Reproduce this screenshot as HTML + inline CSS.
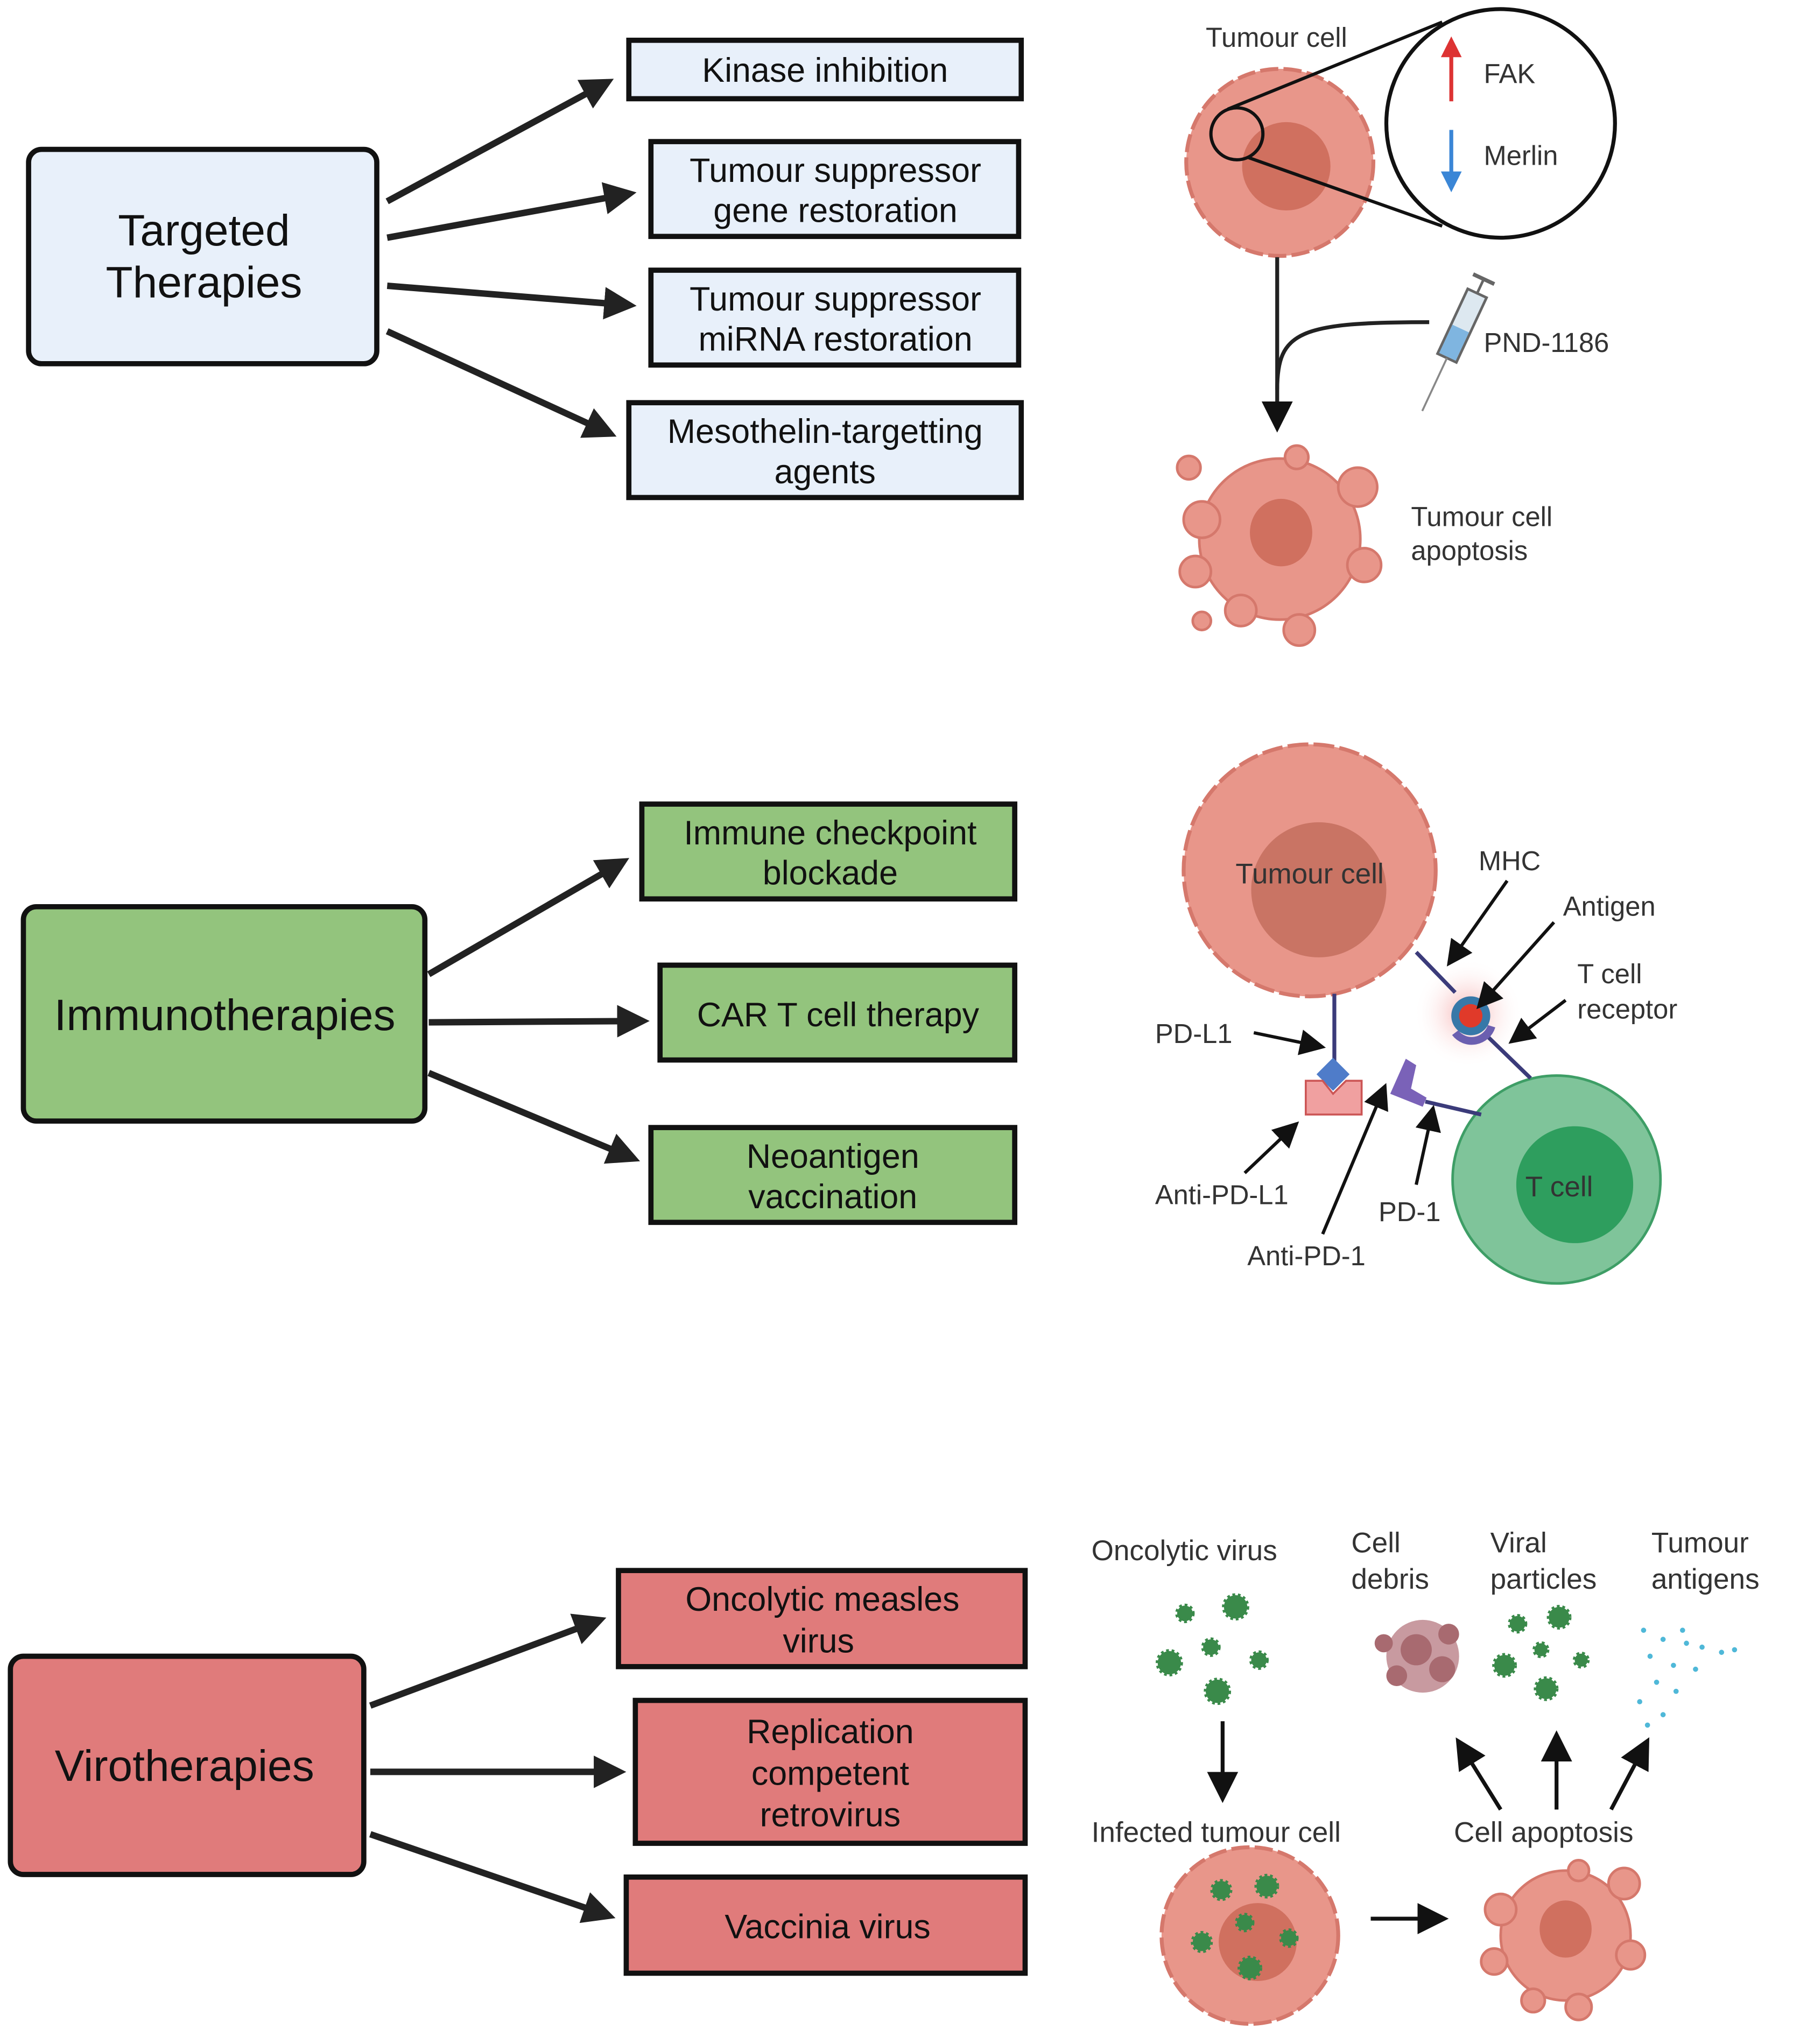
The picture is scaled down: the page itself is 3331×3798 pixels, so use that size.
<!DOCTYPE html>
<html><head><meta charset="utf-8"><style>
html,body{margin:0;padding:0;background:#fff}
svg{display:block}
text{font-family:"Liberation Sans",sans-serif}
</style></head><body>
<svg width="3331" height="3798" viewBox="0 0 1380 1573.5" preserveAspectRatio="none" xmlns="http://www.w3.org/2000/svg">
<defs>
<marker id="ah" markerWidth="5" markerHeight="5" refX="4" refY="2.5" orient="auto" markerUnits="strokeWidth"><path d="M0,0 L5,2.5 L0,5 z" fill="#222"/></marker>
<marker id="as" markerWidth="8" markerHeight="8" refX="7" refY="4" orient="auto" markerUnits="strokeWidth"><path d="M0,0 L8,4 L0,8 z" fill="#111"/></marker>
<radialGradient id="glow"><stop offset="0" stop-color="#f6b0b0"/><stop offset="1" stop-color="#fff" stop-opacity="0"/></radialGradient>
</defs>

<!-- Targeted -->
<rect x="22" y="115" width="268" height="165" rx="10" fill="#e8f0fa" stroke="#111" stroke-width="4"/>
<text x="157" y="189" font-size="34" text-anchor="middle" fill="#111">Targeted</text>
<text x="157" y="229" font-size="34" text-anchor="middle" fill="#111">Therapies</text>
<g fill="#e8f0fa" stroke="#111" stroke-width="4">
<rect x="484" y="31" width="302" height="45"/>
<rect x="501" y="109" width="283" height="73"/>
<rect x="501" y="208" width="283" height="73"/>
<rect x="484" y="310" width="302" height="73"/>
</g>
<g font-size="26" text-anchor="middle" fill="#111">
<text x="635" y="63">Kinase inhibition</text>
<text x="643" y="140">Tumour suppressor</text><text x="643" y="171">gene restoration</text>
<text x="643" y="239">Tumour suppressor</text><text x="643" y="270">miRNA restoration</text>
<text x="635" y="341">Mesothelin-targetting</text><text x="635" y="372">agents</text>
</g>
<g stroke="#222" stroke-width="5" marker-end="url(#ah)">
<line x1="298" y1="155" x2="468" y2="63"/>
<line x1="298" y1="183" x2="485" y2="149"/>
<line x1="298" y1="220" x2="485" y2="235"/>
<line x1="298" y1="255" x2="470" y2="334"/>
</g>

<!-- Immuno -->
<rect x="18" y="698" width="309" height="165" rx="10" fill="#93c47d" stroke="#111" stroke-width="4"/>
<text x="173" y="793" font-size="34" text-anchor="middle" fill="#111">Immunotherapies</text>
<g fill="#93c47d" stroke="#111" stroke-width="4">
<rect x="494" y="619" width="287" height="73"/>
<rect x="508" y="743" width="273" height="73"/>
<rect x="501" y="868" width="280" height="73"/>
</g>
<g font-size="26" text-anchor="middle" fill="#111">
<text x="639" y="650">Immune checkpoint</text><text x="639" y="681">blockade</text>
<text x="645" y="790">CAR T cell therapy</text>
<text x="641" y="899">Neoantigen</text><text x="641" y="930">vaccination</text>
</g>
<g stroke="#222" stroke-width="5" marker-end="url(#ah)">
<line x1="330" y1="750" x2="480" y2="663"/>
<line x1="330" y1="787" x2="495" y2="786"/>
<line x1="330" y1="826" x2="488" y2="892"/>
</g>

<!-- Viro -->
<rect x="8" y="1275" width="272" height="168" rx="10" fill="#e07b7b" stroke="#111" stroke-width="4"/>
<text x="142" y="1371" font-size="34" text-anchor="middle" fill="#111">Virotherapies</text>
<g fill="#e07b7b" stroke="#111" stroke-width="4">
<rect x="476" y="1209" width="313" height="74"/>
<rect x="489" y="1309" width="300" height="110"/>
<rect x="482" y="1445" width="307" height="74"/>
</g>
<g font-size="26" text-anchor="middle" fill="#111">
<text x="633" y="1240">Oncolytic measles</text><text x="630" y="1272">virus</text>
<text x="639" y="1342">Replication</text><text x="639" y="1374">competent</text><text x="639" y="1406">retrovirus</text>
<text x="637" y="1492">Vaccinia virus</text>
</g>
<g stroke="#222" stroke-width="5" marker-end="url(#ah)">
<line x1="285" y1="1313" x2="462" y2="1247"/>
<line x1="285" y1="1364" x2="477" y2="1364"/>
<line x1="285" y1="1412" x2="469" y2="1475"/>
</g>

<!-- Illustration 1 -->
<circle cx="985" cy="125" r="72" fill="#e8968a" stroke="#d5786c" stroke-width="3" stroke-dasharray="14 4"/>
<circle cx="990" cy="128" r="34" fill="#d0705f"/>
<circle cx="952" cy="103" r="20" fill="none" stroke="#111" stroke-width="2.5"/>
<line x1="945" y1="84" x2="1110" y2="17" stroke="#111" stroke-width="2.5"/>
<line x1="960" y1="121" x2="1110" y2="174" stroke="#111" stroke-width="2.5"/>
<circle cx="1155" cy="95" r="88" fill="#fff" stroke="#111" stroke-width="3"/>
<line x1="1117" y1="78" x2="1117" y2="42" stroke="#d33" stroke-width="3"/><path d="M1109,44 L1117,28 L1125,44 z" fill="#d33"/>
<line x1="1117" y1="100" x2="1117" y2="134" stroke="#3a86d6" stroke-width="3"/><path d="M1109,132 L1117,148 L1125,132 z" fill="#3a86d6"/>
<g font-size="21" fill="#333">
<text x="928" y="36">Tumour cell</text>
<text x="1142" y="64">FAK</text>
<text x="1142" y="127">Merlin</text>
<text x="1142" y="271">PND-1186</text>
<text x="1086" y="405">Tumour cell</text><text x="1086" y="431">apoptosis</text>
</g>
<line x1="983" y1="198" x2="983" y2="330" stroke="#222" stroke-width="3" marker-end="url(#as)"/>
<path d="M983,300 C983,255 1000,248 1100,248" fill="none" stroke="#222" stroke-width="3"/>
<g transform="translate(1120,262) rotate(25)">
<rect x="-8" y="-40" width="16" height="55" fill="#dde8f0" stroke="#666" stroke-width="2"/>
<rect x="-7" y="-10" width="14" height="24" fill="#7fb5e0"/>
<line x1="0" y1="-40" x2="0" y2="-52" stroke="#666" stroke-width="2"/>
<line x1="-9" y1="-52" x2="9" y2="-52" stroke="#666" stroke-width="3"/>
<line x1="0" y1="15" x2="0" y2="60" stroke="#888" stroke-width="1.5"/>
</g>
<g fill="#e8968a" stroke="#d5786c" stroke-width="2">
<circle cx="985" cy="415" r="62"/>
<circle cx="925" cy="400" r="14"/><circle cx="920" cy="440" r="12"/><circle cx="1045" cy="375" r="15"/>
<circle cx="1050" cy="435" r="13"/><circle cx="1000" cy="485" r="12"/><circle cx="955" cy="470" r="12"/>
<circle cx="915" cy="360" r="9"/><circle cx="925" cy="478" r="7"/><circle cx="998" cy="352" r="9"/>
</g>
<ellipse cx="986" cy="410" rx="24" ry="26" fill="#d0705f"/>

<!-- Illustration 2 -->
<circle cx="1130" cy="780" r="42" fill="url(#glow)"/>
<circle cx="1008" cy="670" r="97" fill="#e8968a" stroke="#d5786c" stroke-width="3" stroke-dasharray="16 4"/>
<circle cx="1015" cy="685" r="52" fill="#c97464"/>
<text x="1008" y="680" font-size="22" text-anchor="middle" fill="#333">Tumour cell</text>
<circle cx="1198" cy="908" r="80" fill="#7fc49a" stroke="#3e9e66" stroke-width="2"/>
<circle cx="1212" cy="912" r="45" fill="#2e9e5e"/>
<text x="1200" y="921" font-size="22" text-anchor="middle" fill="#333">T cell</text>
<g stroke="#3b3b7a" stroke-width="3" fill="none">
<line x1="1090" y1="733" x2="1120" y2="764"/>
<line x1="1145" y1="798" x2="1178" y2="830"/>
<line x1="1027" y1="765" x2="1027" y2="820"/>
<line x1="1097" y1="848" x2="1140" y2="858"/>
</g>
<circle cx="1132" cy="782" r="15" fill="#3778a8"/>
<circle cx="1132" cy="782" r="9" fill="#e03a2a"/>
<path d="M1120,795 A16,16 0 0 0 1148,790" stroke="#6b5fb0" stroke-width="6" fill="none"/>
<rect x="1017" y="818" width="18" height="18" transform="rotate(45 1026 827)" fill="#4f7cc9"/>
<path d="M1005,832 L1018,832 L1026,842 L1036,832 L1048,832 L1048,858 L1005,858 z" fill="#f0a0a0" stroke="#c55" stroke-width="1.5"/>
<path d="M1070,842 L1082,815 L1090,820 L1086,838 L1098,845 L1095,852 z" fill="#7a62b8"/>
<g font-size="21" fill="#333">
<text x="1138" y="670">MHC</text>
<text x="1203" y="705">Antigen</text>
<text x="1214" y="757">T cell</text><text x="1214" y="784">receptor</text>
<text x="889" y="803">PD-L1</text>
<text x="889" y="927">Anti-PD-L1</text>
<text x="1061" y="940">PD-1</text>
<text x="960" y="974">Anti-PD-1</text>
</g>
<g stroke="#111" stroke-width="2.5" marker-end="url(#as)">
<line x1="1160" y1="678" x2="1115" y2="742"/>
<line x1="1196" y1="710" x2="1138" y2="775"/>
<line x1="1205" y1="770" x2="1163" y2="802"/>
<line x1="965" y1="795" x2="1018" y2="806"/>
<line x1="958" y1="903" x2="998" y2="865"/>
<line x1="1018" y1="950" x2="1066" y2="836"/>
<line x1="1090" y1="912" x2="1103" y2="853"/>
</g>

<!-- Illustration 3 -->
<g font-size="22" fill="#333">
<text x="840" y="1201">Oncolytic virus</text>
<text x="1040" y="1195">Cell</text><text x="1040" y="1223">debris</text>
<text x="1147" y="1195">Viral</text><text x="1147" y="1223">particles</text>
<text x="1271" y="1195">Tumour</text><text x="1271" y="1223">antigens</text>
<text x="840" y="1418">Infected tumour cell</text>
<text x="1119" y="1418">Cell apoptosis</text>
</g>
<g fill="#3a8a4a" stroke="#3a8a4a" stroke-width="3" stroke-dasharray="2 2">
<circle cx="912" cy="1242" r="6"/><circle cx="951" cy="1237" r="9"/><circle cx="932" cy="1268" r="6"/>
<circle cx="900" cy="1280" r="9"/><circle cx="969" cy="1278" r="6"/><circle cx="937" cy="1302" r="9"/>
<circle cx="1168" cy="1250" r="6"/><circle cx="1200" cy="1245" r="8"/><circle cx="1186" cy="1270" r="5"/>
<circle cx="1158" cy="1282" r="8"/><circle cx="1217" cy="1278" r="5"/><circle cx="1190" cy="1300" r="8"/>
</g>
<g fill="#a86a70">
<circle cx="1095" cy="1275" r="28" fill="#c89aa0"/><circle cx="1090" cy="1270" r="12"/><circle cx="1110" cy="1285" r="10"/>
<circle cx="1075" cy="1290" r="8"/><circle cx="1115" cy="1258" r="8"/><circle cx="1065" cy="1265" r="7"/>
</g>
<g fill="#4fb8d8">
<circle cx="1265" cy="1255" r="2"/><circle cx="1280" cy="1262" r="2"/><circle cx="1295" cy="1255" r="2"/><circle cx="1310" cy="1268" r="2"/>
<circle cx="1270" cy="1275" r="2"/><circle cx="1288" cy="1282" r="2"/><circle cx="1305" cy="1285" r="2"/><circle cx="1325" cy="1272" r="2"/>
<circle cx="1275" cy="1295" r="2"/><circle cx="1290" cy="1302" r="2"/><circle cx="1262" cy="1310" r="2"/><circle cx="1280" cy="1320" r="2"/>
<circle cx="1298" cy="1265" r="2"/><circle cx="1335" cy="1270" r="2"/><circle cx="1268" cy="1328" r="2"/>
</g>
<g stroke="#111" stroke-width="3" marker-end="url(#as)">
<line x1="941" y1="1325" x2="941" y2="1385"/>
<line x1="1155" y1="1393" x2="1122" y2="1340"/>
<line x1="1198" y1="1393" x2="1198" y2="1335"/>
<line x1="1240" y1="1393" x2="1268" y2="1340"/>
<line x1="1055" y1="1477" x2="1112" y2="1477"/>
</g>
<circle cx="962" cy="1490" r="68" fill="#e8968a" stroke="#d5786c" stroke-width="3" stroke-dasharray="14 4"/>
<circle cx="968" cy="1495" r="30" fill="#d0705f"/>
<g fill="#3a8a4a" stroke="#3a8a4a" stroke-width="3" stroke-dasharray="2 2">
<circle cx="940" cy="1455" r="7"/><circle cx="975" cy="1452" r="8"/><circle cx="925" cy="1495" r="7"/>
<circle cx="958" cy="1480" r="6"/><circle cx="992" cy="1492" r="6"/><circle cx="962" cy="1515" r="8"/>
</g>
<g fill="#e8968a" stroke="#d5786c" stroke-width="2">
<circle cx="1205" cy="1490" r="50"/>
<circle cx="1155" cy="1470" r="12"/><circle cx="1150" cy="1510" r="10"/><circle cx="1250" cy="1450" r="12"/>
<circle cx="1255" cy="1505" r="11"/><circle cx="1215" cy="1545" r="10"/><circle cx="1180" cy="1540" r="9"/><circle cx="1215" cy="1440" r="8"/>
</g>
<ellipse cx="1205" cy="1485" rx="20" ry="22" fill="#d0705f"/>
</svg>
</body></html>
